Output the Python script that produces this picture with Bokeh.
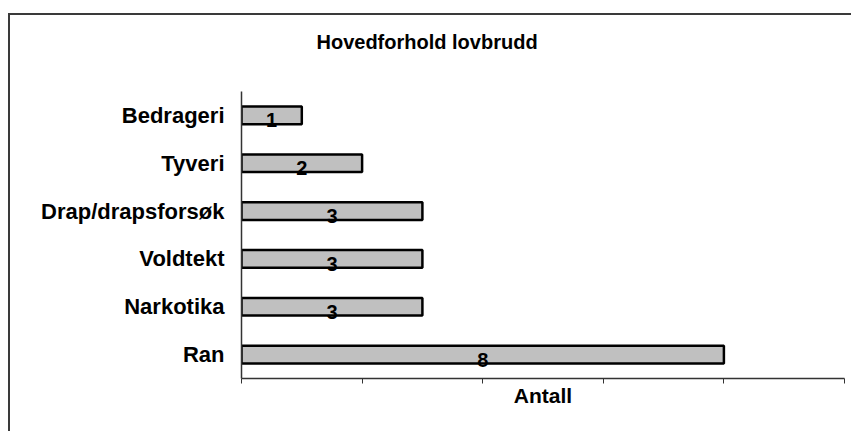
from bokeh.plotting import figure
from bokeh.models import ColumnDataSource, FixedTicker, Title, CustomJSTickFormatter
from bokeh.core.properties import value
from bokeh.embed import file_html
from bokeh.resources import INLINE

# --- data ---
categories = ["Ran", "Narkotika", "Voldtekt", "Drap/drapsforsøk", "Tyveri", "Bedrageri"]
counts = [8, 3, 3, 3, 2, 1]
x_ticks = [0, 2, 4, 6, 8, 10]
title_text = "Hovedforhold lovbrudd"
x_label = "Antall"

FONT = "Liberation Sans"

src = ColumnDataSource(dict(
    cat=categories,
    val=counts,
    mid=[v / 2 for v in counts],
    lab=[str(v) for v in counts],
))

W, H = 843, 418
p = figure(
    y_range=categories, x_range=(0, 10),
    width=W, height=H,
    output_backend="svg", toolbar_location=None, tools="",
    min_border_left=231, min_border_right=9,
    min_border_top=76, min_border_bottom=55,
    margin=(13, 0, 0, 8),
)
p.styles = {"border-top": "2px solid #3a3a3a", "border-left": "2px solid #3a3a3a"}

p.outline_line_color = None
p.xgrid.grid_line_color = None
p.ygrid.grid_line_color = None
p.background_fill_color = "white"
p.border_fill_color = "white"

p.hbar(y="cat", right="val", left=0, height=0.37, source=src,
       fill_color="#C0C0C0", line_color="black", line_width=2.5)

p.text(x="mid", y="cat", text="lab", source=src,
       text_align="center", text_baseline="middle", y_offset=5,
       text_font=value(FONT), text_font_style="bold", text_font_size="20px",
       text_color="black")

# y axis
ya = p.yaxis[0]
ya.major_tick_line_color = None
ya.minor_tick_line_color = None
ya.major_tick_out = 0
ya.major_label_standoff = 17
ya.major_label_text_font = FONT
ya.major_label_text_font_style = "bold"
ya.major_label_text_font_size = "22px"
ya.major_label_text_color = "black"
ya.axis_line_color = "#333333"
ya.axis_line_width = 1.5

# x axis (ticks without labels, as in the reference)
xa = p.xaxis[0]
xa.ticker = FixedTicker(ticks=x_ticks)
xa.formatter = CustomJSTickFormatter(code="return ''")
xa.minor_tick_line_color = None
xa.major_tick_out = 5
xa.major_tick_in = 0
xa.major_tick_line_color = "#333333"
xa.major_label_standoff = 0
xa.axis_line_color = "#333333"
xa.axis_line_width = 1.5
xa.axis_label = x_label
xa.axis_label_standoff = 0
xa.axis_label_text_font = FONT
xa.axis_label_text_font_style = "bold"
xa.axis_label_text_font_size = "21px"
xa.axis_label_text_color = "black"

spacer = Title(text=" ", standoff=13, text_font_size="20px")
p.add_layout(spacer, "above")
title = Title(text=title_text, align="left", offset=75, standoff=0,
              vertical_align="top",
              text_font=FONT, text_font_style="bold", text_font_size="20px",
              text_color="black")
p.add_layout(title, "above")

open("out.html", "w").write(file_html(p, INLINE))
